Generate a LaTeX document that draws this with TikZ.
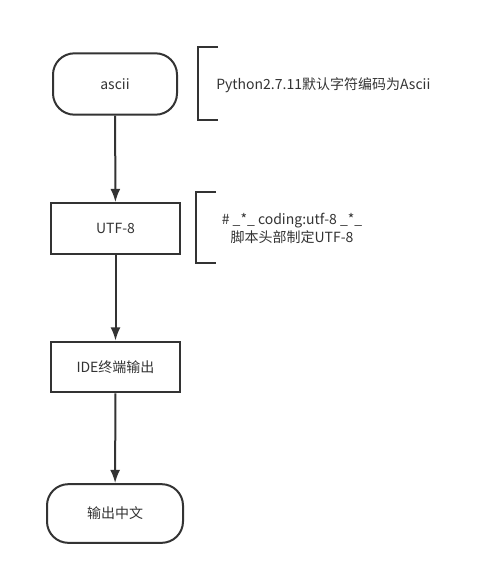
\documentclass[tikz,border=0pt]{standalone}
\usepackage{fontspec}
\setmainfont{Noto Sans CJK SC}
\usepackage{tikz}
\usetikzlibrary{arrows.meta}

\definecolor{ink}{HTML}{333333}

\begin{document}
\begin{tikzpicture}
  [ x=0.75pt, y=-0.75pt
  , terminal/.style={rectangle, rounded corners=16pt, draw=ink, line width=1.5pt, minimum width=93pt, minimum height=46pt, font=\fontsize{10.5}{13.5}\selectfont, text=ink}
  , process/.style={rectangle, draw=ink, line width=1.5pt, minimum width=97pt, minimum height=38pt, font=\fontsize{10.5}{13.5}\selectfont, text=ink}
  , note/.style={rectangle, inner sep=0pt, font=\fontsize{10.5}{13.5}\selectfont, text=ink, align=center}
  , >={Latex[length=10pt, width=7.5pt]}]
  \useasboundingbox (0,0) rectangle (481,575);
  \node (0) at (115, 84) [terminal] {ascii};
  \node (1) at (115.5, 228.5) [process] {UTF-8};
  \node (2) at (115.5, 367) [process] {IDE终端输出};
  \node (3) at (115, 513.5) [terminal, minimum width=102pt, minimum height=44pt] {输出中文};
  \node (4) at (216, 85) [note, anchor=west] {Python2.7.11默认字符编码为Ascii};
  \node (5) at (292, 228) [note] {\# \_*\_ coding:utf-8 \_*\_\\脚本头部制定UTF-8};
  \draw [->, ink, line width=1.5pt] (0) -- (1);
  \draw [->, ink, line width=1.5pt] (1) -- (2);
  \draw [->, ink, line width=1.5pt] (2) -- (3);
  % brackets beside the notes
  \draw [ink, line width=1.5pt] (218, 47) -- (198, 47) -- (198, 120) -- (218, 120);
  \draw [ink, line width=1.5pt] (216, 192) -- (196, 192) -- (196, 263) -- (216, 263);
\end{tikzpicture}
\end{document}
